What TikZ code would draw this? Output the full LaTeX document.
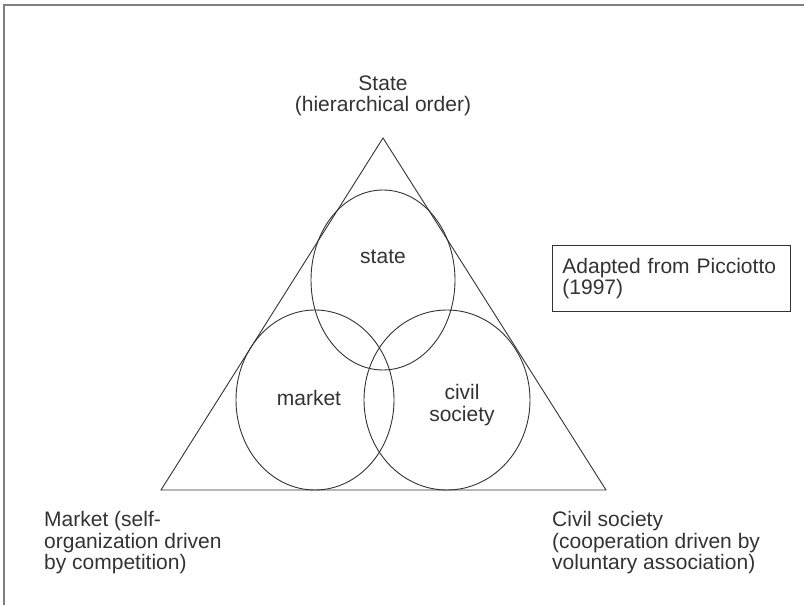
\documentclass[tikz,border=0pt]{standalone}
\usepackage{fontspec}
\setmainfont{Liberation Sans}
\usepackage{tikz}
\usetikzlibrary{shapes.geometric}
\usepackage{xcolor}
\definecolor{inkgrey}{HTML}{333333}

\begin{document}
\begin{tikzpicture}[x=1pt, y=-1pt, inkgrey,
    every node/.style={text=inkgrey, font=\fontsize{21}{21.5}\selectfont},
    ring/.style={ellipse, draw, line width=.9pt, inner sep=0pt},
    caption/.style={align=left, anchor=north west, inner sep=0pt}]
            \useasboundingbox (0,0) rectangle (804,605);
            % frame
            \draw[gray, line width=1.5pt] (4,605) -- (4,5) -- (804,5);
            % triangle
            \coordinate (apex) at (383,138);
            \coordinate (baseL) at (161,490);
            \coordinate (baseR) at (606,490);
            \draw[line width=.9pt, line join=miter] (apex) -- (baseL) -- (baseR) -- cycle;
            % the three rings
            \node[ring, minimum width=144, minimum height=180] (statering) at (383,280) {};
            \node[ring, minimum width=158, minimum height=180] (marketring) at (315,400) {};
            \node[ring, minimum width=166, minimum height=180] (civilring) at (447,400) {};
            \node (state) at (383,257) {state};
            \node (market) at (309,398) {market};
            \node[align=center] (civil) at (462,405) {civil\\society};
            % corner labels
            \node[align=center, anchor=north, inner sep=0pt] (statelbl) at (383,75.5) {State\\(hierarchical order)};
            \node[caption] (marketlbl) at (44,511.5) {Market (self-\\organization driven\\by competition)};
            \node[caption] (civillbl) at (552,511.5) {Civil society\\(cooperation driven by\\voluntary association)};
            % source box
            \node[draw, line width=.9pt, anchor=north west, align=left, text width=218, inner xsep=10, minimum height=66] (source) at (552,245) {Adapted from Picciotto\\(1997)};
        \end{tikzpicture}
\end{document}
